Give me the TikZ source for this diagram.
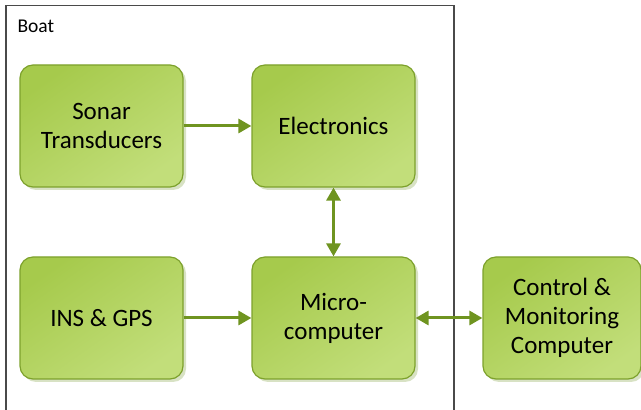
\documentclass[tikz,border=0pt]{standalone}
\usepackage{fontspec}
\setmainfont{Carlito}
\usetikzlibrary{arrows.meta,shadows}
\definecolor{boxtop}{HTML}{A6CA4C}
\definecolor{boxbot}{HTML}{C2DE7A}
\definecolor{boxline}{HTML}{7DA12C}
\definecolor{arrowc}{HTML}{6F9420}
\definecolor{shadowc}{HTML}{D8E2C4}
\definecolor{framec}{HTML}{4A4A4A}
\begin{document}
\begin{tikzpicture}[x=1pt,y=1pt,
  blk/.style={rounded corners=13pt, draw=boxline, line width=1.2pt,
    top color=boxtop, bottom color=boxbot, shading angle=35,
    drop shadow={shadow xshift=3pt, shadow yshift=-3pt, fill=shadowc, opacity=1},
    minimum width=163pt, minimum height=122pt, inner sep=0pt, align=center,
    font=\fontsize{25}{29}\selectfont},
  conn/.style={draw=arrowc, line width=3pt},
  tip/.style={-{Triangle[length=13pt,width=14pt]}},
  bitip/.style={{Triangle[length=13pt,width=14pt]}-{Triangle[length=13pt,width=14pt]}}]
\useasboundingbox (0,0) rectangle (641,410);
\draw[framec, line width=1.2pt] (6,0) -- (6,404.5) -- (454,404.5) -- (454,0);
\node[anchor=base west, font=\fontsize{19.5}{22}\selectfont] (boat) at (14,377) {Boat};
\node[blk] (sonar) at (101.5,284) {Sonar\\Transducers};
\node[blk] (elec) at (333.5,284) {Electronics};
\node[blk] (ins) at (101.5,92) {INS \& GPS};
\node[blk] (micro) at (333.5,92) {Micro-\\computer};
\node[blk, minimum width=158pt] (ctrl) at (562,92) {Control \&\\Monitoring\\Computer};
\draw[conn, tip] (sonar) -- (elec);
\draw[conn, bitip] (elec) -- (micro);
\draw[conn, tip] (ins) -- (micro);
\draw[conn, bitip] (micro) -- (ctrl);
\end{tikzpicture}
\end{document}
